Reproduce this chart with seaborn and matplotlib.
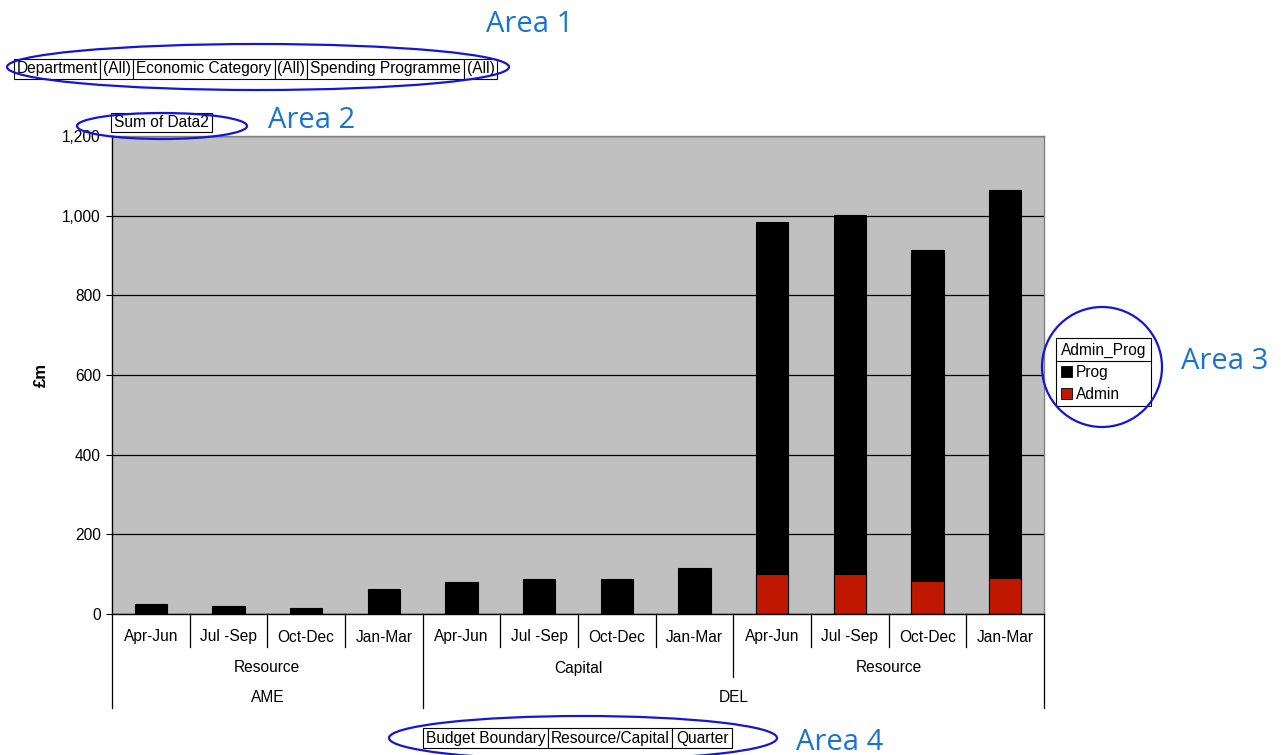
import numpy as np
import pandas as pd
import matplotlib
matplotlib.use("Agg")
import matplotlib.pyplot as plt
import seaborn as sns
from matplotlib.patches import Rectangle, Ellipse, Patch
from matplotlib.lines import Line2D
import matplotlib.transforms as mtransforms

# ---------------- data ----------------
budget_boundary = ["AME"] * 4 + ["DEL"] * 8
resource_capital = ["Resource"] * 4 + ["Capital"] * 4 + ["Resource"] * 4
quarters = ["Apr-Jun", "Jul -Sep", "Oct-Dec", "Jan-Mar"] * 3
prog = [26, 19, 14, 63, 80, 88, 87, 116, 885, 902, 832, 975]
admin = [0, 0, 0, 0, 0, 0, 0, 0, 100, 100, 83, 90]
y_ticks = [0, 200, 400, 600, 800, 1000, 1200]
series_names = ["Prog", "Admin"]
series_colors = ["#000000", "#C01800"]
legend_title = "Admin_Prog"
y_label = "£m"
page_fields = ["Department", "(All)", "Economic Category", "(All)",
               "Spending Programme", "(All)"]
data_field = ["Sum of Data2"]
row_fields = ["Budget Boundary", "Resource/Capital", "Quarter"]
area_labels = ["Area 1", "Area 2", "Area 3", "Area 4"]

# ---------------- figure ----------------
plt.rcParams["font.family"] = ["Liberation Sans", "DejaVu Sans"]
FS = 11.2
W, H = 1281, 755
fig = plt.figure(figsize=(W / 100, H / 100), dpi=100)
fig.patch.set_facecolor("white")

ax_l, ax_r, ax_t, ax_b = 112, 1044, 136, 614
ax = fig.add_axes([ax_l / W, 1 - ax_b / H, (ax_r - ax_l) / W, (ax_b - ax_t) / H])
ax_h = ax_b - ax_t

df = pd.DataFrame({
    "budget": budget_boundary,
    "rc": resource_capital,
    "quarter": quarters,
    "prog": prog,
    "admin": admin,
})
df["key"] = [f"{b}|{r}|{q}|{i}" for i, (b, r, q) in
             enumerate(zip(df.budget, df.rc, df.quarter))]
df["total"] = df["prog"] + df["admin"]
order = list(df["key"])

ax.set_facecolor("#C0C0C0")
ax.set_axisbelow(True)
ax.yaxis.grid(True, color="black", linewidth=0.9)
ax.xaxis.grid(False)

sns.barplot(data=df, x="key", y="total", order=order, color=series_colors[0],
            width=0.42, edgecolor="black", linewidth=0.8, saturation=1,
            errorbar=None, ax=ax)
sns.barplot(data=df, x="key", y="admin", order=order, color=series_colors[1],
            width=0.42, edgecolor="black", linewidth=0.8, saturation=1,
            errorbar=None, ax=ax)

ax.set_xlim(-0.5, len(order) - 0.5)
ax.set_ylim(0, 1200)
ax.set_yticks(y_ticks)
ax.set_yticklabels([f"{v:,}" for v in y_ticks], fontsize=FS)
ax.tick_params(axis="y", length=4, width=0.8, pad=4, color="black")
ax.set_xticks(range(len(order)))
ax.set_xticklabels([""] * len(order))
ax.tick_params(axis="x", length=0)
ax.set_xlabel("")
for s in ax.spines.values():
    s.set_color("#808080")
    s.set_linewidth(1.0)
ax.spines["left"].set_color("black")
ax.spines["bottom"].set_color("black")

ax.set_ylabel(y_label, fontsize=12, fontweight="bold", va="center")
ax.yaxis.set_label_coords((41 - ax_l) / (ax_r - ax_l), 0.5)

# ---------------- multi-level x axis ----------------
tr = mtransforms.blended_transform_factory(ax.transData, ax.transAxes)
def fy(py):
    return -(py - ax_b) / ax_h

y_q_lab, y_rc_lab, y_b_lab = fy(637), fy(668), fy(698)
y_q_end, y_rc_end, y_b_end = fy(647), fy(677), fy(708)

n = len(order)
for i, q in enumerate(quarters):
    ax.text(i, y_q_lab, q, transform=tr, ha="center", va="center",
            fontsize=FS, clip_on=False)

# separators
for i in range(n + 1):
    xb = i - 0.5
    if i == 0 or i == n or budget_boundary[i] != budget_boundary[i - 1]:
        yend = y_b_end
    elif resource_capital[i] != resource_capital[i - 1]:
        yend = y_rc_end
    else:
        yend = y_q_end
    ax.plot([xb, xb], [0, yend], transform=tr, color="black", lw=0.9,
            clip_on=False)

def runs(keys):
    out, start = [], 0
    for i in range(1, len(keys) + 1):
        if i == len(keys) or keys[i] != keys[start]:
            out.append((start, i - 1, keys[start]))
            start = i
    return out

rc_keys = [f"{b}|{r}" for b, r in zip(budget_boundary, resource_capital)]
for s, e, k in runs(rc_keys):
    ax.text((s + e) / 2, y_rc_lab, k.split("|")[1], transform=tr,
            ha="center", va="center", fontsize=FS, clip_on=False)
for s, e, k in runs(budget_boundary):
    ax.text((s + e) / 2, y_b_lab, k, transform=tr,
            ha="center", va="center", fontsize=FS, clip_on=False)

# ---------------- legend ----------------
handles = [Patch(facecolor=c, edgecolor="black", linewidth=0.6)
           for c in series_colors]
leg = ax.legend(handles, series_names, title=legend_title,
                loc="upper left", bbox_to_anchor=(1056 / W, 1 - 338 / H),
                bbox_transform=fig.transFigure, borderaxespad=0,
                fontsize=FS, title_fontsize=FS, frameon=True,
                fancybox=False, framealpha=1, edgecolor="black",
                handlelength=0.7, handleheight=0.7, handletextpad=0.3,
                borderpad=0.3, labelspacing=0.45)
leg.get_frame().set_linewidth(0.8)
leg._legend_box.align = "left"
fig.canvas.draw()
fb = leg.get_frame().get_window_extent()
tb = leg.get_title().get_window_extent()
inv = fig.transFigure.inverted()
yline = tb.y0 - 3
(x0f, ylf) = inv.transform((fb.x0, yline))
(x1f, _) = inv.transform((fb.x1, yline))
fig.add_artist(Line2D([x0f, x1f], [ylf, ylf], transform=fig.transFigure,
                      color="black", lw=0.8))

# ---------------- pivot field buttons ----------------
def px_box(x0, x1, y0, y1, label, fs=FS):
    fig.add_artist(Rectangle((x0 / W, 1 - y1 / H), (x1 - x0) / W, (y1 - y0) / H,
                             transform=fig.transFigure, facecolor="white",
                             edgecolor="black", linewidth=0.8))
    fig.text((x0 + x1) / 2 / W, 1 - (y0 + y1) / 2 / H, label, ha="center",
             va="center", fontsize=fs)

page_edges = [14, 100, 133, 275, 307, 464, 497]
for i, lab in enumerate(page_fields):
    px_box(page_edges[i], page_edges[i + 1], 59, 79, lab)

px_box(111, 212, 113, 132, data_field[0])

row_edges = [423, 548, 672, 732]
for i, lab in enumerate(row_fields):
    px_box(row_edges[i], row_edges[i + 1], 728, 748, lab)

# ---------------- annotation ellipses & area labels ----------------
blue_line = "#1515D5"
blue_text = "#1874D0"
ellipses = [(258, 67, 502, 46), (162, 126, 170, 26), (1102, 367, 120, 120),
            (583, 738, 388, 44)]
for cx, cy, w, h in ellipses:
    fig.add_artist(Ellipse((cx / W, 1 - cy / H), w / W, h / H,
                           transform=fig.transFigure, fill=False,
                           edgecolor=blue_line, linewidth=1.6))

area_pos = [(530, 25), (312, 121), (1225, 361), (840, 742)]
for (x, y), lab in zip(area_pos, area_labels):
    fig.text(x / W, 1 - y / H, lab, ha="center", va="center", fontsize=21,
             color=blue_text, family=["Open Sans", "DejaVu Sans"])

fig.savefig("out.png", dpi=100)
